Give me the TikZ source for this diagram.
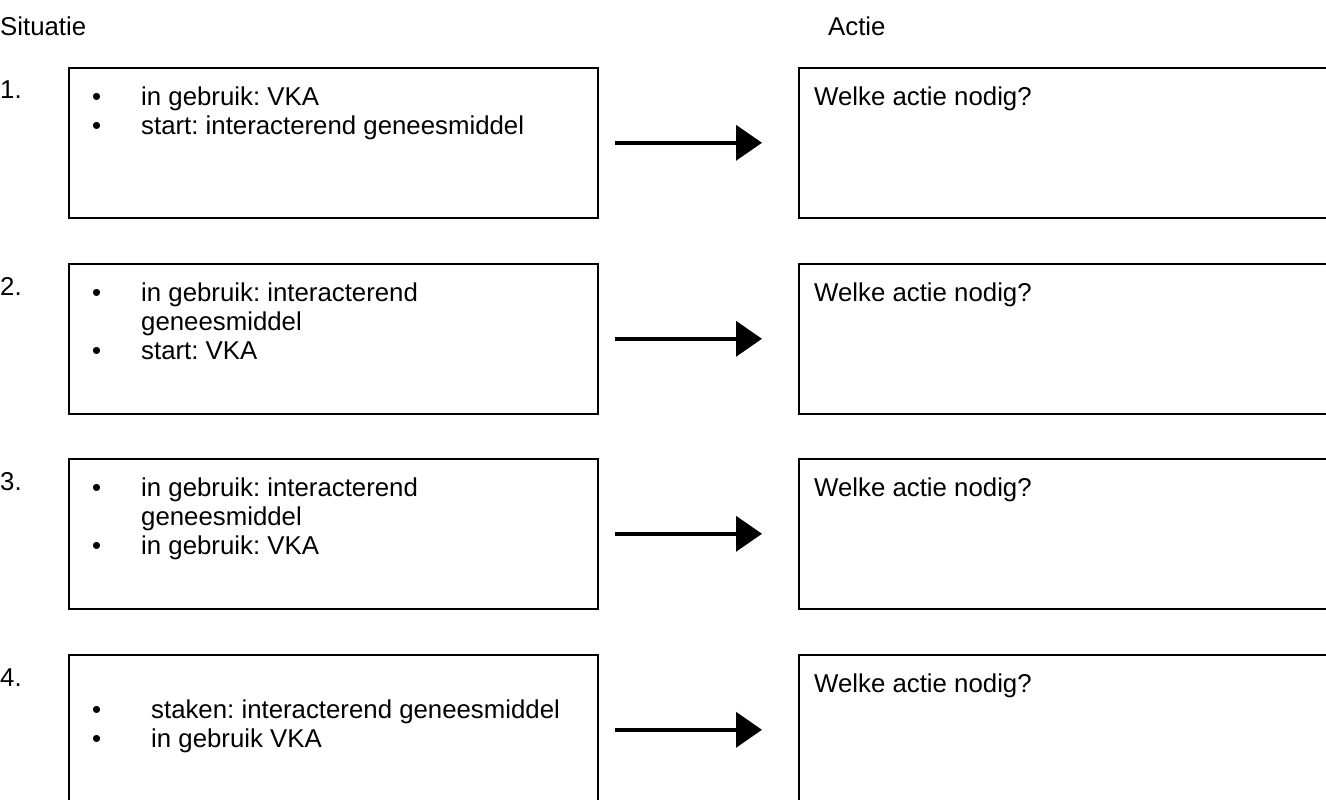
\documentclass[tikz,border=0pt]{standalone}
\usepackage{fontspec}
\setmainfont{Liberation Sans}
\usetikzlibrary{arrows.meta,positioning}
\newcommand{\bul}[2][49pt]{\makebox[#1][l]{\textbullet}#2}
\frenchspacing
\begin{document}
\begin{tikzpicture}[x=1pt,y=-1pt,
    every node/.style={font=\fontsize{25.8}{29}\selectfont, inner sep=0pt},
    sitbox/.style={draw, line width=1.6pt, minimum width=529pt, minimum height=150pt, anchor=north west},
    txt/.style={anchor=north west, align=left},
    arr/.style={line width=3.8pt, shorten <=16pt, shorten >=36pt, -{Triangle[length=26pt,width=35pt]}}]
  \clip (0,0) rectangle (1326,800);
  \node [anchor=base west] (sit) at (0,36) {Situatie};
  \node [anchor=base west] (act) at (828,36) {Actie};
  % one row per situation
  \foreach \i/\y in {1/67,2/263,3/458,4/654} {
    \node [anchor=base west] (n\i) at (0,\y+32) {\i.};
    \node [sitbox] (s\i) at (68,\y) {};
    \node [sitbox] (a\i) at (798,\y) {};
    \node [txt] (w\i) at ([xshift=16pt,yshift=-20pt]a\i.north west) {Welke actie nodig?};
    \draw [arr] (s\i) -- (a\i);
  }
  \node [txt] (t1) at ([xshift=24pt,yshift=-20pt]s1.north west)
    {\bul{in gebruik: VKA}\\ \bul{start: interacterend geneesmiddel}};
  \node [txt] (t2) at ([xshift=24pt,yshift=-20pt]s2.north west)
    {\bul{in gebruik: interacterend}\\ \hspace*{49pt}geneesmiddel\\ \bul{start: VKA}};
  \node [txt] (t3) at ([xshift=24pt,yshift=-20pt]s3.north west)
    {\bul{in gebruik: interacterend}\\ \hspace*{49pt}geneesmiddel\\ \bul{in gebruik: VKA}};
  \node [txt] (t4) at ([xshift=24pt,yshift=-46pt]s4.north west)
    {\bul[59pt]{staken: interacterend geneesmiddel}\\ \bul[59pt]{in gebruik VKA}};
\end{tikzpicture}
\end{document}
